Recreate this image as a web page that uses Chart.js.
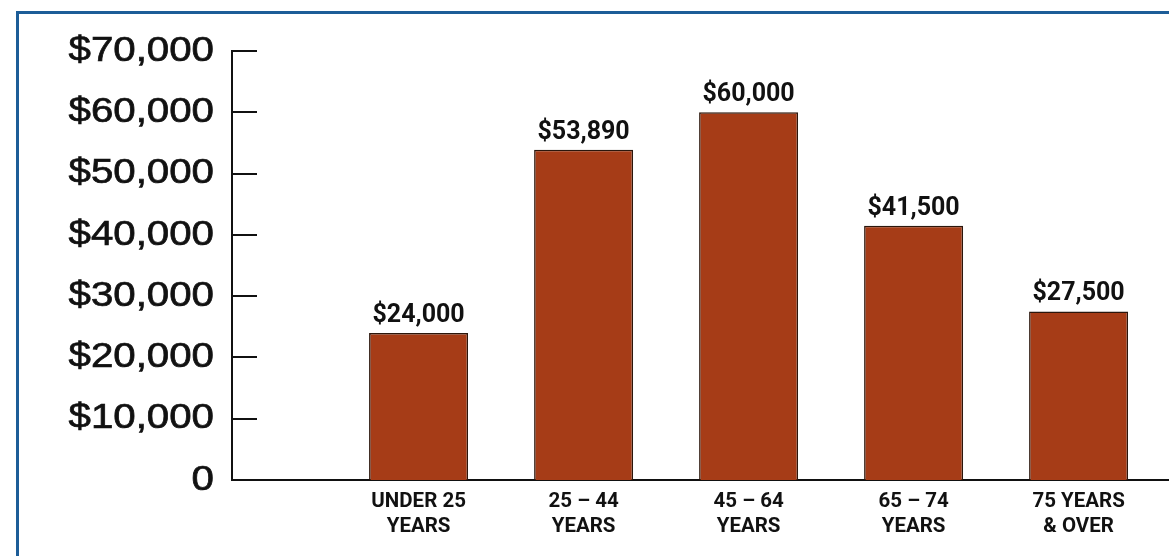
<!DOCTYPE html>
<html>
<head>
<meta charset="utf-8">
<script src="https://cdn.jsdelivr.net/npm/chart.js@4.4.1/dist/chart.umd.min.js"></script>
<style>
  html, body { margin: 0; padding: 0; background: #fff; overflow: hidden; }
  #frame {
    position: absolute; left: 16px; top: 11px;
    width: 1300px; height: 700px;
    border: 3px solid #1d5d98; box-sizing: border-box;
  }
  #wrap { position: absolute; left: 0; top: 0; width: 1169px; height: 556px; }
</style>
</head>
<body>
<div id="frame"></div>
<div id="wrap"><canvas id="c" width="1169" height="556"></canvas></div>
<script>
// Median household income by age of householder
const ageGroups = [
  ["UNDER 25", "YEARS"],
  ["25 \u2013 44", "YEARS"],
  ["45 \u2013 64", "YEARS"],
  ["65 \u2013 74", "YEARS"],
  ["75 YEARS", "& OVER"]
];
const incomes = [24000, 53890, 60000, 41500, 27500];
const incomeLabels = ["$24,000", "$53,890", "$60,000", "$41,500", "$27,500"];
const yTickValues = [0, 10000, 20000, 30000, 40000, 50000, 60000, 70000];
const yTickLabels = ["0", "$10,000", "$20,000", "$30,000", "$40,000", "$50,000", "$60,000", "$70,000"];

const BAR_FILL = "#a63c17";
const BAR_EDGE = "#2b160c";
const INK = "#111111";
const LABEL_FONT = "Roboto, 'Liberation Sans', sans-serif";

// linear scale whose right-aligned tick labels are drawn horizontally widened
class WideLabelLinearScale extends Chart.LinearScale {
  drawLabels(area) {
    const ctx = this.ctx;
    const k = this.options.ticks.stretchX || 1;
    const anchor = this.right - this.options.ticks.padding;
    ctx.save();
    ctx.translate(anchor, 0);
    ctx.scale(k, 1);
    ctx.translate(-anchor, 0);
    super.drawLabels(area);
    ctx.restore();
  }
}
WideLabelLinearScale.id = "wideLabelLinear";
WideLabelLinearScale.defaults = Chart.LinearScale.defaults;
Chart.register(WideLabelLinearScale);

// short inward tick marks on the value axis and the value captions above bars
const decorations = {
  id: "decorations",
  afterDraw(chart) {
    const ctx = chart.ctx;
    const y = chart.scales.y;
    const area = chart.chartArea;
    ctx.save();
    ctx.strokeStyle = INK;
    ctx.lineWidth = 2;
    yTickValues.forEach(v => {
      const py = Math.round(y.getPixelForValue(v));
      ctx.beginPath();
      ctx.moveTo(area.left, py);
      ctx.lineTo(area.left + 25, py);
      ctx.stroke();
    });
    const meta = chart.getDatasetMeta(0);
    ctx.fillStyle = INK;
    ctx.font = "bold 25px " + LABEL_FONT;
    ctx.textAlign = "center";
    ctx.textBaseline = "alphabetic";
    meta.data.forEach((bar, i) => {
      ctx.fillText(incomeLabels[i], bar.x, bar.y - 11);
    });
    ctx.restore();
  }
};

new Chart(document.getElementById("c"), {
  type: "bar",
  data: {
    datasets: [{
      data: incomes.map((v, i) => ({ x: i, y: v })),
      backgroundColor: BAR_FILL,
      borderColor: BAR_EDGE,
      borderWidth: 1.5,
      borderSkipped: "bottom",
      barPercentage: 0.6,
      categoryPercentage: 1.0
    }]
  },
  options: {
    responsive: false,
    animation: false,
    layout: { padding: { top: 51, right: 0, bottom: 0, left: 0 } },
    plugins: { legend: { display: false }, tooltip: { enabled: false } },
    scales: {
      x: {
        type: "linear",
        offset: false,
        min: -1.131,
        max: 4.548,
        grid: { display: false, drawTicks: false },
        border: { display: true, color: INK, width: 2 },
        afterBuildTicks(scale) { scale.ticks = ageGroups.map((g, i) => ({ value: i })); },
        afterFit(scale) { scale.height = 76; },
        ticks: {
          autoSkip: false,
          maxRotation: 0,
          padding: 10,
          color: INK,
          font: { family: LABEL_FONT, size: 20.5, weight: "bold", lineHeight: 1.2 },
          callback: (v) => ageGroups[v]
        }
      },
      y: {
        type: "wideLabelLinear",
        min: 0,
        max: 70000,
        grid: { display: false, drawTicks: false },
        border: { display: true, color: INK, width: 2 },
        afterBuildTicks(scale) { scale.ticks = yTickValues.map(v => ({ value: v })); },
        afterFit(scale) { scale.width = 232; },
        ticks: {
          padding: 18,
          stretchX: 1.15,
          color: INK,
          textStrokeColor: INK,
          textStrokeWidth: 0.7,
          font: { family: "'Liberation Sans', Arial, sans-serif", size: 35 },
          callback: (v) => yTickLabels[yTickValues.indexOf(v)]
        }
      }
    }
  },
  plugins: [decorations]
});
</script>
</body>
</html>
